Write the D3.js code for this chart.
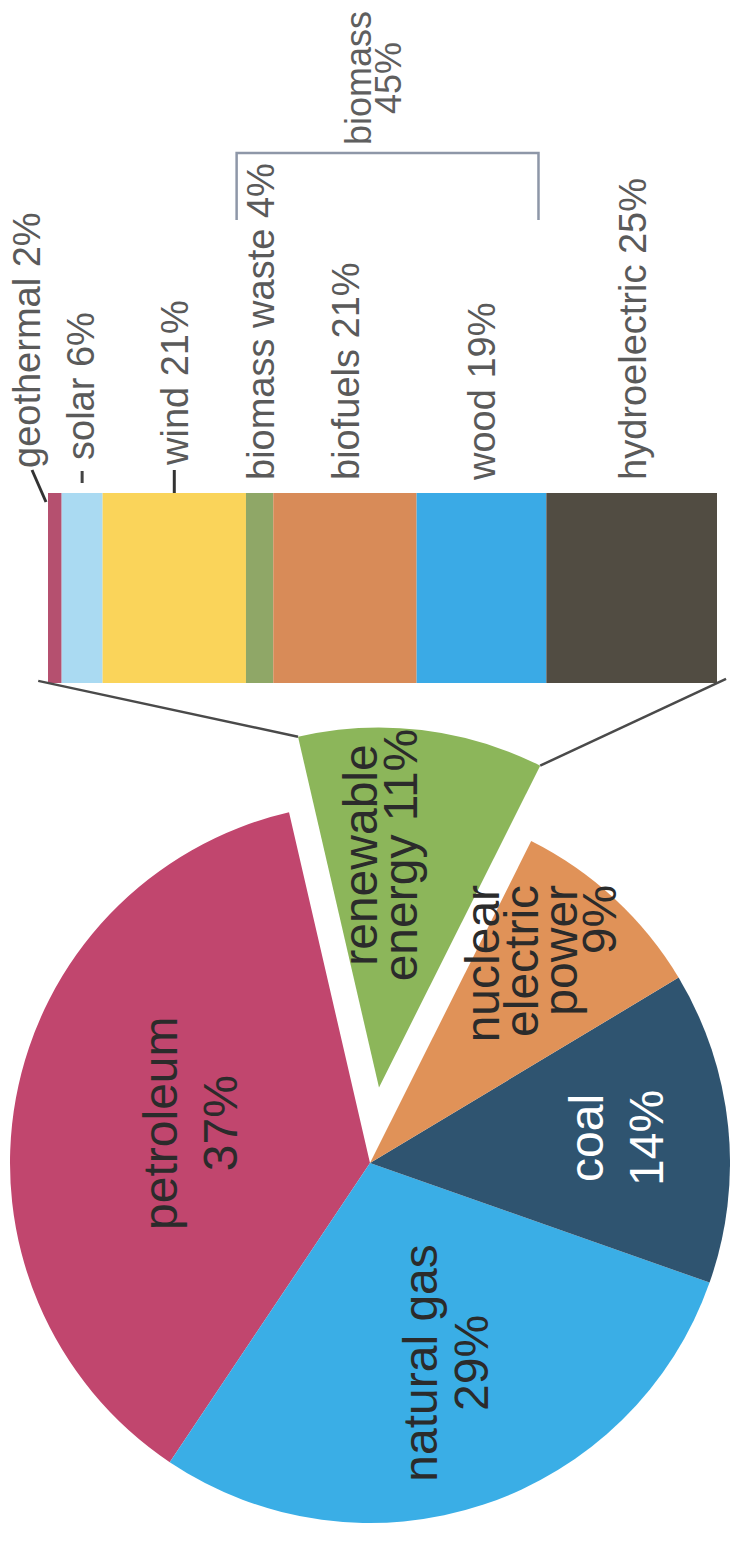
<!DOCTYPE html>
<html>
<head>
<meta charset="utf-8">
<script src="https://cdn.jsdelivr.net/npm/d3@7"></script>
<style>
html, body { margin: 0; padding: 0; background: #fff; }
svg text { font-family: "Liberation Sans", Arial, sans-serif; }
</style>
</head>
<body>
<div id="chart"></div>
<script>
// energy consumption by source (%) - pie
var sources = ["petroleum", "natural gas", "coal", "nuclear electric power", "renewable energy"];
var sourceShares = [37, 29, 14, 9, 11];

// renewable energy breakdown (%) - stacked bar, top to bottom
var renewables = ["geothermal", "solar", "wind", "biomass waste", "biofuels", "wood", "hydroelectric"];
var renewableShares = [2, 6, 21, 4, 21, 19, 25];

// biomass group shown with a bracket
var biomassParts = ["biomass waste", "biofuels", "wood"];
var biomassName = "biomass";
var biomassShare = 45;

var W = 730, H = 1543;
var rad = Math.PI / 180;

var sourceColor = d3.scaleOrdinal()
	.domain(sources)
	.range(["#c1466e", "#3aaee6", "#2f5470", "#e09258", "#8cb65a"]);

var renewColor = d3.scaleOrdinal()
	.domain(renewables)
	.range(["#b5506f", "#aadaf2", "#fad45a", "#8fa767", "#d88b58", "#3aaae6", "#514c42"]);

var svg = d3.select("#chart").append("svg")
	.attr("width", W)
	.attr("height", H);

// the whole chart is laid out landscape and turned a quarter turn
var g = svg.append("g")
	.attr("transform", "translate(0," + H + ") rotate(-90)");

// ---------- pie ----------
var cx = 380, cy = 370, R = 360, explode = 76;

// slices run counter-clockwise, renewable ends at 77deg
var pie = d3.pie()
	.sort(null)
	.value(function(d){ return d.value; })
	.startAngle((77 + 360) * rad)
	.endAngle(77 * rad);

var pieData = pie(sources.map(function(s, i){ return {name: s, value: sourceShares[i]}; }));

var arc = d3.arc().innerRadius(0).outerRadius(R);

function offsetOf(d){
	if (d.data.name !== "renewable energy") return [0, 0];
	var mid = (d.startAngle + d.endAngle) / 2;
	return [explode * Math.sin(mid), -explode * Math.cos(mid)];
}

var pieG = g.append("g").attr("transform", "translate(" + cx + "," + cy + ")");

pieG.selectAll("path.slice")
	.data(pieData)
	.enter().append("path")
	.attr("class", "slice")
	.attr("transform", function(d){ var o = offsetOf(d); return "translate(" + o[0] + "," + o[1] + ")"; })
	.attr("d", arc)
	.attr("fill", function(d){ return sourceColor(d.data.name); });

// pie labels
var pieLabelLayout = {
	"petroleum":              {f: 0.52, dx: 6,  dy: 5,   lh: 60, anchor: "middle", fill: "#2b2b2b", text: "{n}|{v}%"},
	"natural gas":            {f: 0.60, dx: 5,  dy: 8,   lh: 51, anchor: "middle", fill: "#2b2b2b", text: "{n}|{v}%"},
	"coal":                   {f: 0.69, dx: 0,  dy: 0,   lh: 60, anchor: "middle", fill: "#ffffff", text: "{n}|{v}%"},
	"nuclear electric power": {f: 0.75, dx: 80, dy: -12, lh: 39, anchor: "end",    fill: "#2b2b2b", text: "nuclear|electric|power|{v}%"},
	"renewable energy":       {f: 0.67, dx: -7, dy: -27, lh: 40, anchor: "middle", fill: "#2b2b2b", text: "renewable|energy {v}%"}
};
var pieFont = 48;

pieData.forEach(function(d){
	var lay = pieLabelLayout[d.data.name];
	var la = d3.arc().innerRadius(R * lay.f).outerRadius(R * lay.f);
	var c = la.centroid(d);
	var o = offsetOf(d);
	var px = c[0] + o[0] + lay.dx, py = c[1] + o[1] + lay.dy;
	var lines = lay.text.replace("{n}", d.data.name).replace("{v}", d.data.value).split("|");
	var n = lines.length;
	var t = pieG.append("text")
		.attr("text-anchor", lay.anchor)
		.attr("font-size", pieFont)
		.attr("fill", lay.fill);
	lines.forEach(function(line, i){
		t.append("tspan")
			.attr("x", px)
			.attr("y", py + (i - (n - 1) / 2) * lay.lh + 0.34 * pieFont)
			.text(line);
	});
});

// ---------- stacked bar ----------
var barX0 = 860, barX1 = 1050;
var total = d3.sum(renewableShares);
var yBar = d3.scaleLinear().domain([0, total]).range([48, 717]);
var cum = Array.from(d3.cumsum(renewableShares));

var barData = renewables.map(function(name, i){
	return {name: name, value: renewableShares[i], y0: i ? cum[i - 1] : 0, y1: cum[i]};
});

g.selectAll("rect.seg")
	.data(barData)
	.enter().append("rect")
	.attr("class", "seg")
	.attr("x", barX0)
	.attr("width", barX1 - barX0)
	.attr("y", function(d){ return yBar(d.y0); })
	.attr("height", function(d){ return yBar(d.y1) - yBar(d.y0); })
	.attr("fill", function(d){ return renewColor(d.name); });

// connector lines from exploded slice to bar ends
var ren = pieData[4];
var ro = offsetOf(ren);
[[ren.endAngle, yBar(0)], [ren.startAngle, yBar(total)]].forEach(function(p){
	var sx = cx + ro[0] + R * Math.sin(p[0]);
	var sy = cy + ro[1] - R * Math.cos(p[0]);
	var ex = barX0, ey = p[1];
	var len = Math.hypot(ex - sx, ey - sy);
	var ext = 10;
	g.append("line")
		.attr("x1", sx).attr("y1", sy)
		.attr("x2", ex + (ex - sx) / len * ext)
		.attr("y2", ey + (ey - sy) / len * ext)
		.attr("stroke", "#4a4a4a")
		.attr("stroke-width", 2.5);
});

// bar labels
var barFont = 38;
var barLabelG = g.append("g").attr("font-size", barFont).attr("fill", "#5a5a5a");
var labelBase = {};

barData.forEach(function(d){
	var mid = yBar((d.y0 + d.y1) / 2);
	var tx = barX1 + 13, ty = mid + 14;

	if (d.name === "geothermal") {
		tx = barX1 + 25; ty = yBar(0) - 8;
		g.append("line")
			.attr("x1", barX1 - 9).attr("y1", yBar(0) - 2)
			.attr("x2", barX1 + 23).attr("y2", yBar(0) - 16)
			.attr("stroke", "#333").attr("stroke-width", 3);
	} else if (d.name === "solar") {
		tx = barX1 + 33; ty = mid + 12;
		g.append("line")
			.attr("x1", barX1 + 10).attr("y1", mid)
			.attr("x2", barX1 + 22).attr("y2", mid)
			.attr("stroke", "#444").attr("stroke-width", 3);
	} else if (d.name === "wind") {
		tx = barX1 + 28;
		g.append("line")
			.attr("x1", barX1).attr("y1", mid)
			.attr("x2", barX1 + 23).attr("y2", mid)
			.attr("stroke", "#333").attr("stroke-width", 3);
	}
	labelBase[d.name] = ty;

	barLabelG.append("text")
		.attr("x", tx)
		.attr("y", ty)
		.text(d.name + " " + d.value + "%");
});

// biomass bracket
var bTop = labelBase[biomassParts[0]] - 37;
var bBot = labelBase[biomassParts[biomassParts.length - 1]] + 43;
var bX = 1390, bLeg = 1323;

g.append("path")
	.attr("d", "M" + bLeg + "," + bTop + "H" + bX + "V" + bBot + "H" + bLeg)
	.attr("fill", "none")
	.attr("stroke", "#8e97a8")
	.attr("stroke-width", 2.5);

var bMid = (bTop + bBot) / 2;
var bt = g.append("text")
	.attr("text-anchor", "middle")
	.attr("font-size", 36)
	.attr("fill", "#5f5f5f");
bt.append("tspan").attr("x", 1465).attr("y", bMid - 17).text(biomassName);
bt.append("tspan").attr("x", 1465).attr("y", bMid + 13).text(biomassShare + "%");
</script>
</body>
</html>
